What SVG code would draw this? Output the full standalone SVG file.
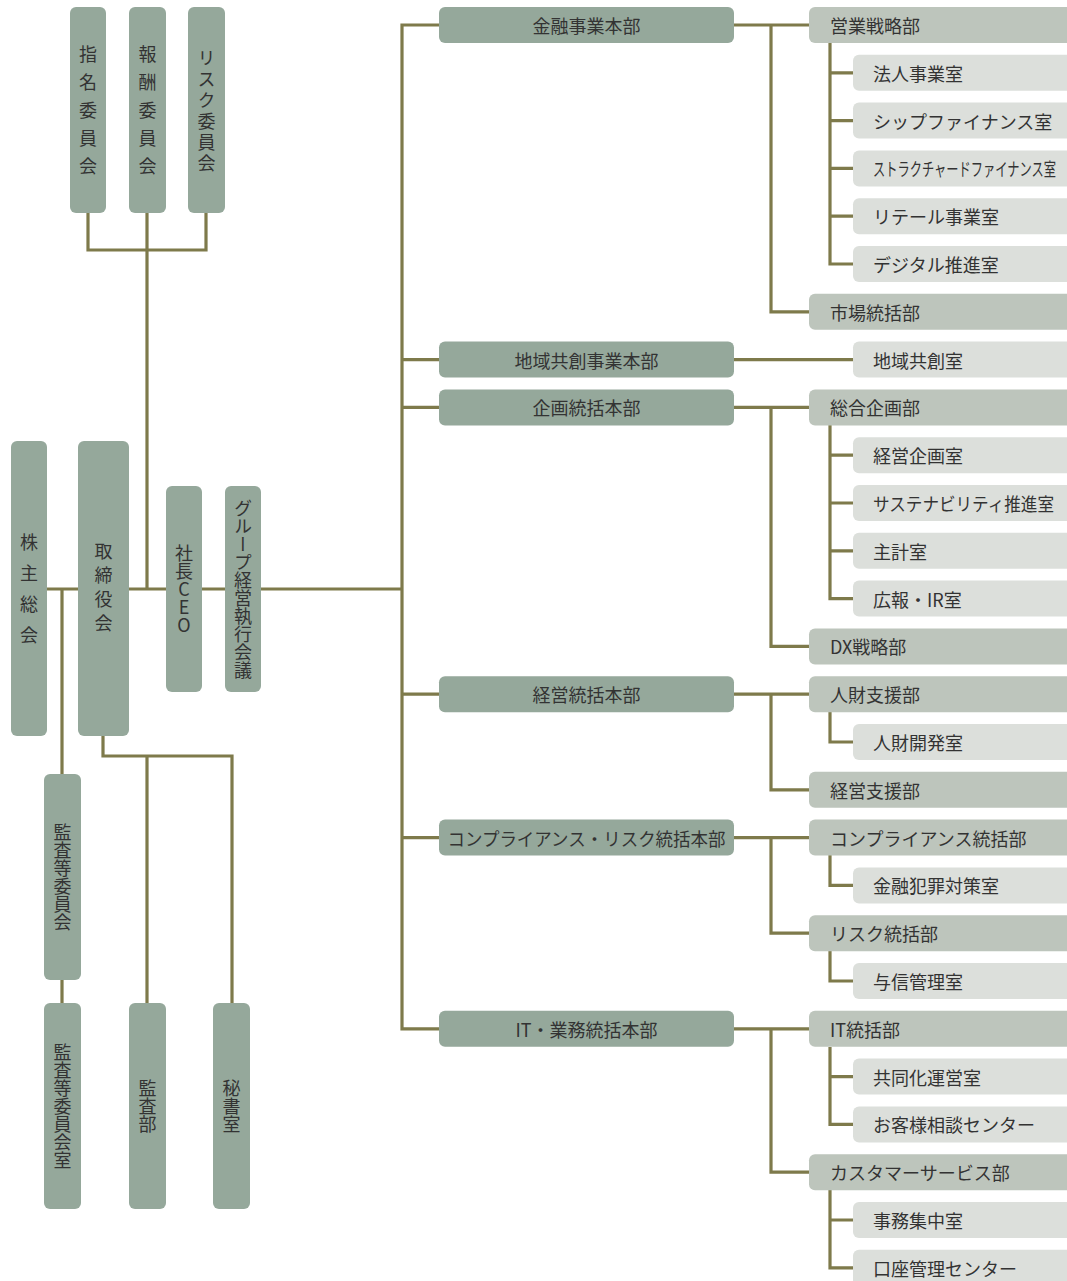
<svg xmlns="http://www.w3.org/2000/svg" width="1067" height="1281" viewBox="0 0 1067 1281">
<style>
.n{fill:#95a89b}
.d{fill:#bdc5bc}
.r{fill:#dcdfdb}
.t{font-family:"Noto Sans CJK JP","Noto Sans",sans-serif;font-size:18px;fill:#333}
.c{text-anchor:middle;dominant-baseline:central}
.l{dominant-baseline:central}
.v{writing-mode:vertical-rl;text-anchor:middle;dominant-baseline:central}
.ln{fill:none;stroke:#7e7a4b;stroke-width:3.2}
</style>
<rect width="1067" height="1281" fill="#fff"/>
<g id="connectors" class="ln">
<path d="M88 213V250H206V213M147 213V589"/>
<path d="M47 589H78M129 589H166M202 589H225M261 589H402"/>
<path d="M62 589V774M62 980V1003"/>
<path d="M103 736V756H232V1003M147 756V1003"/>
<path d="M439 25H402V1028.8H439M402 359.6H439M402 407.4H439M402 694.2H439M402 837.6H439"/>
<path d="M734 25H809M771 25V311.8H809M830 43V264H853M830 72.8H853M830 120.6H853M830 168.4H853M830 216.2H853"/>
<path d="M734 359.6H853"/>
<path d="M734 407.4H809M771 407.4V646.4H809M830 425V598.6H853M830 455.2H853M830 503H853M830 550.8H853"/>
<path d="M734 694.2H809M771 694.2V789.8H809M830 712V742H853"/>
<path d="M734 837.6H809M771 837.6V933.2H809M830 855V885.4H853M830 951V981H853"/>
<path d="M734 1028.8H809M771 1028.8V1172.2H809M830 1047V1124.4H853M830 1076.6H853M830 1190V1267.8H853M830 1220H853"/>
</g>
<g id="n-shimei"><rect class="n" x="70" y="7" width="36" height="206" rx="6"/><text class="t v" x="88" y="115" style="letter-spacing:10px">指名委員会</text></g>
<g id="n-houshu"><rect class="n" x="129" y="7" width="37" height="206" rx="6"/><text class="t v" x="147.5" y="115" style="letter-spacing:10px">報酬委員会</text></g>
<g id="n-risk-iinkai"><rect class="n" x="188" y="7" width="37" height="206" rx="6"/><text class="t v" x="206.5" y="112" style="letter-spacing:3px">リスク委員会</text></g>
<g id="n-kabunushi"><rect class="n" x="11" y="441" width="36" height="295" rx="6"/><text class="t v" x="29" y="595" style="letter-spacing:13px">株主総会</text></g>
<g id="n-torishimariyaku"><rect class="n" x="78" y="441" width="51" height="295" rx="6"/><text class="t v" x="103.5" y="590" style="letter-spacing:6px">取締役会</text></g>
<g id="n-ceo"><rect class="n" x="166" y="486" width="36" height="206" rx="6"/><text class="t v" x="184" y="589" style="text-orientation:upright">社長CEO</text></g>
<g id="n-group"><rect class="n" x="225" y="486" width="36" height="206" rx="6"/><text class="t v" x="243" y="589">グループ経営執行会議</text></g>
<g id="n-kansa-iinkai"><rect class="n" x="44" y="774" width="37" height="206" rx="6"/><text class="t v" x="62.5" y="877">監査等委員会</text></g>
<g id="n-kansa-shitsu"><rect class="n" x="44" y="1003" width="37" height="206" rx="6"/><text class="t v" x="62.5" y="1106">監査等委員会室</text></g>
<g id="n-kansabu"><rect class="n" x="129" y="1003" width="37" height="206" rx="6"/><text class="t v" x="147.5" y="1106">監査部</text></g>
<g id="n-hisho"><rect class="n" x="213" y="1003" width="37" height="206" rx="6"/><text class="t v" x="231.5" y="1106">秘書室</text></g>

<g id="hq-kinyu"><rect class="n" x="439" y="7" width="295" height="36" rx="6"/><text class="t c" x="586.5" y="25">金融事業本部</text></g>
<g id="hq-chiiki"><rect class="n" x="439" y="341.6" width="295" height="36" rx="6"/><text class="t c" x="586.5" y="359.6">地域共創事業本部</text></g>
<g id="hq-kikaku"><rect class="n" x="439" y="389.4" width="295" height="36" rx="6"/><text class="t c" x="586.5" y="407.4">企画統括本部</text></g>
<g id="hq-keiei"><rect class="n" x="439" y="676.2" width="295" height="36" rx="6"/><text class="t c" x="586.5" y="694.2">経営統括本部</text></g>
<g id="hq-comp"><rect class="n" x="439" y="819.6" width="295" height="36" rx="6"/><text class="t c" x="586.5" y="837.6" textLength="278" lengthAdjust="spacingAndGlyphs">コンプライアンス・リスク統括本部</text></g>
<g id="hq-it"><rect class="n" x="439" y="1010.8" width="295" height="36" rx="6"/><text class="t c" x="586.5" y="1028.8">IT・業務統括本部</text></g>

<g id="d-eigyo"><rect class="d" x="809" y="7" width="270" height="36" rx="6"/><text class="t l" x="830" y="25">営業戦略部</text></g>
<g id="r-hojin"><rect class="r" x="853" y="54.8" width="226" height="36" rx="6"/><text class="t l" x="873" y="72.8">法人事業室</text></g>
<g id="r-ship"><rect class="r" x="853" y="102.6" width="226" height="36" rx="6"/><text class="t l" x="873" y="120.6">シップファイナンス室</text></g>
<g id="r-struct"><rect class="r" x="853" y="150.4" width="226" height="36" rx="6"/><text class="t l" x="873" y="168.4" textLength="183" lengthAdjust="spacingAndGlyphs">ストラクチャードファイナンス室</text></g>
<g id="r-retail"><rect class="r" x="853" y="198.2" width="226" height="36" rx="6"/><text class="t l" x="873" y="216.2">リテール事業室</text></g>
<g id="r-digital"><rect class="r" x="853" y="246" width="226" height="36" rx="6"/><text class="t l" x="873" y="264">デジタル推進室</text></g>
<g id="d-shijo"><rect class="d" x="809" y="293.8" width="270" height="36" rx="6"/><text class="t l" x="830" y="311.8">市場統括部</text></g>
<g id="r-chiiki"><rect class="r" x="853" y="341.6" width="226" height="36" rx="6"/><text class="t l" x="873" y="359.6">地域共創室</text></g>
<g id="d-sogo"><rect class="d" x="809" y="389.4" width="270" height="36" rx="6"/><text class="t l" x="830" y="407.4">総合企画部</text></g>
<g id="r-keikaku"><rect class="r" x="853" y="437.2" width="226" height="36" rx="6"/><text class="t l" x="873" y="455.2">経営企画室</text></g>
<g id="r-sustain"><rect class="r" x="853" y="485" width="226" height="36" rx="6"/><text class="t l" x="873" y="503" textLength="181" lengthAdjust="spacingAndGlyphs">サステナビリティ推進室</text></g>
<g id="r-shukei"><rect class="r" x="853" y="532.8" width="226" height="36" rx="6"/><text class="t l" x="873" y="550.8">主計室</text></g>
<g id="r-koho"><rect class="r" x="853" y="580.6" width="226" height="36" rx="6"/><text class="t l" x="873" y="598.6">広報・IR室</text></g>
<g id="d-dx"><rect class="d" x="809" y="628.4" width="270" height="36" rx="6"/><text class="t l" x="830" y="646.4">DX戦略部</text></g>
<g id="d-jinzai"><rect class="d" x="809" y="676.2" width="270" height="36" rx="6"/><text class="t l" x="830" y="694.2">人財支援部</text></g>
<g id="r-jinzai"><rect class="r" x="853" y="724" width="226" height="36" rx="6"/><text class="t l" x="873" y="742">人財開発室</text></g>
<g id="d-keieishien"><rect class="d" x="809" y="771.8" width="270" height="36" rx="6"/><text class="t l" x="830" y="789.8">経営支援部</text></g>
<g id="d-comp"><rect class="d" x="809" y="819.6" width="270" height="36" rx="6"/><text class="t l" x="830" y="837.6">コンプライアンス統括部</text></g>
<g id="r-hanzai"><rect class="r" x="853" y="867.4" width="226" height="36" rx="6"/><text class="t l" x="873" y="885.4">金融犯罪対策室</text></g>
<g id="d-risk"><rect class="d" x="809" y="915.2" width="270" height="36" rx="6"/><text class="t l" x="830" y="933.2">リスク統括部</text></g>
<g id="r-yoshin"><rect class="r" x="853" y="963" width="226" height="36" rx="6"/><text class="t l" x="873" y="981">与信管理室</text></g>
<g id="d-it"><rect class="d" x="809" y="1010.8" width="270" height="36" rx="6"/><text class="t l" x="830" y="1028.8">IT統括部</text></g>
<g id="r-kyodo"><rect class="r" x="853" y="1058.6" width="226" height="36" rx="6"/><text class="t l" x="873" y="1076.6">共同化運営室</text></g>
<g id="r-okyaku"><rect class="r" x="853" y="1106.4" width="226" height="36" rx="6"/><text class="t l" x="873" y="1124.4">お客様相談センター</text></g>
<g id="d-cs"><rect class="d" x="809" y="1154.2" width="270" height="36" rx="6"/><text class="t l" x="830" y="1172.2">カスタマーサービス部</text></g>
<g id="r-jimu"><rect class="r" x="853" y="1202" width="226" height="36" rx="6"/><text class="t l" x="873" y="1220">事務集中室</text></g>
<g id="r-koza"><rect class="r" x="853" y="1249.8" width="226" height="40" rx="6"/><text class="t l" x="873" y="1267.8">口座管理センター</text></g>
</svg>
